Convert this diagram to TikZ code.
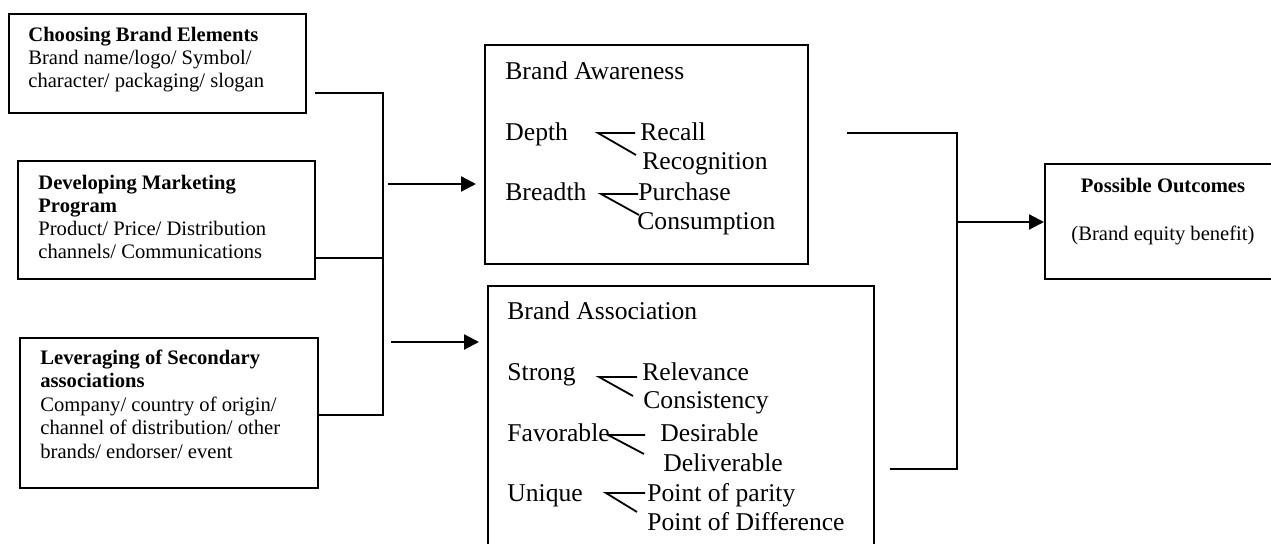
\documentclass[tikz,border=0pt]{standalone}
\usepackage{fontspec}
\setmainfont{Liberation Serif}
\usetikzlibrary{arrows.meta}
\begin{document}
\begin{tikzpicture}[x=0.5pt,y=-0.5pt,
  box/.style={draw, line width=1.1pt, rectangle, anchor=north west, inner sep=0},
  sm/.style={anchor=base west, inner sep=0, font=\fontsize{10.3}{12}\selectfont},
  smb/.style={anchor=base west, inner sep=0, font=\fontsize{10.3}{12}\selectfont\bfseries},
  smc/.style={anchor=base, inner sep=0, font=\fontsize{10.3}{12}\selectfont},
  smbc/.style={anchor=base, inner sep=0, font=\fontsize{10.3}{12}\selectfont\bfseries},
  lg/.style={anchor=base west, inner sep=0, font=\fontsize{12.8}{15}\selectfont},
  conn/.style={line width=1.1pt},
  arr/.style={line width=1.1pt, -{Triangle[length=7.5pt,width=7.5pt]}},
  br/.style={line width=0.9pt}]
\useasboundingbox (0,0) rectangle (1271,544);

% ---- left boxes ----
\node[box, minimum width=148.5pt, minimum height=49.5pt] (b1) at (8,13) {};
\node[box, minimum width=148.5pt, minimum height=59pt] (b2) at (17,160) {};
\node[box, minimum width=149pt, minimum height=75pt] (b3) at (19,337) {};

\node[smb] (b1t1) at (28,42) {Choosing Brand Elements};
\node[sm]  (b1t2) at (28,65) {Brand name/logo/ Symbol/};
\node[sm]  (b1t3) at (28,88) {character/ packaging/ slogan};

\node[smb] (b2t1) at (38,190) {Developing Marketing};
\node[smb] (b2t2) at (38,213) {Program};
\node[sm]  (b2t3) at (38,236) {Product/ Price/ Distribution};
\node[sm]  (b2t4) at (38,259) {channels/ Communications};

\node[smb] (b3t1) at (40,365) {Leveraging of Secondary};
\node[smb] (b3t2) at (40,388) {associations};
\node[sm]  (b3t3) at (40,412) {Company/ country of origin/};
\node[sm]  (b3t4) at (40,435) {channel of distribution/ other};
\node[sm]  (b3t5) at (40,459) {brands/ endorser/ event};

% ---- middle boxes ----
\node[box, minimum width=161.5pt, minimum height=109.5pt] (aw) at (484,44) {};
\node[box, minimum width=193pt, minimum height=137pt] (as) at (487,285) {};

\node[lg] (awt) at (505,80) {Brand Awareness};
\node[lg] (dep) at (505,141) {Depth};
\node[lg] (rec) at (640,141) {Recall};
\node[lg] (rcg) at (642,170) {Recognition};
\node[lg] (bre) at (505,201) {Breadth};
\node[lg] (pur) at (638,201) {Purchase};
\node[lg] (con) at (637,230) {Consumption};

\node[lg] (ast) at (507,320) {Brand Association};
\node[lg] (str) at (507,381) {Strong};
\node[lg] (rel) at (642,381) {Relevance};
\node[lg] (cns) at (643,409) {Consistency};
\node[lg] (fav) at (507,442) {Favorable};
\node[lg] (des) at (660,442) {Desirable};
\node[lg] (del) at (663,472) {Deliverable};
\node[lg] (uni) at (507,502) {Unique};
\node[lg] (pop) at (647,502) {Point of parity};
\node[lg] (pod) at (647,531) {Point of Difference};

% branch lines
\coordinate (d0) at (598,133); \coordinate (d1) at (635,133); \coordinate (d2) at (636,155);
\coordinate (e0) at (601,194); \coordinate (e1) at (638,194); \coordinate (e2) at (639,215);
\coordinate (s0) at (599,377); \coordinate (s1) at (637,377); \coordinate (s2) at (633,396);
\coordinate (f0) at (608,435); \coordinate (f1) at (645,435); \coordinate (f2) at (644,454);
\coordinate (u0) at (606,493); \coordinate (u1) at (645,493); \coordinate (u2) at (637,512);
\draw[br] (d1) -- (d0) -- (d2);
\draw[br] (e1) -- (e0) -- (e2);
\draw[br] (s1) -- (s0) -- (s2);
\draw[br] (f1) -- (f0) -- (f2);
\draw[br] (u1) -- (u0) -- (u2);

% ---- outcome box ----
\node[box, minimum width=120pt, minimum height=57.5pt] (out) at (1044,163) {};
\node[smbc] (ot1) at (1163,193) {Possible Outcomes};
\node[smc]  (ot2) at (1163,241) {(Brand equity benefit)};

% ---- left connectors ----
\coordinate (l1) at (315,93);
\coordinate (lv1) at (383,93);
\coordinate (lv3) at (383,415);
\draw[conn] (l1) -- (lv1) -- (lv3) -- (b3.east |- lv3);
\draw[conn] (b2.east |- 0,258) -- (383,258);
\coordinate (a1s) at (388,184);
\coordinate (a2s) at (391,342);
\draw[arr] (a1s) -- ([xshift=-4pt]aw.west |- a1s);
\draw[arr] (a2s) -- ([xshift=-4pt]as.west |- a2s);

% ---- right connectors ----
\coordinate (r1) at (847,133);
\coordinate (rv1) at (957,133);
\coordinate (rv2) at (957,469);
\coordinate (r2) at (890,469);
\coordinate (rm) at (957,222);
\draw[conn] (r1) -- (rv1) -- (rv2) -- (r2);
\draw[arr] (rm) -- (out.west |- rm);
\end{tikzpicture}
\end{document}
